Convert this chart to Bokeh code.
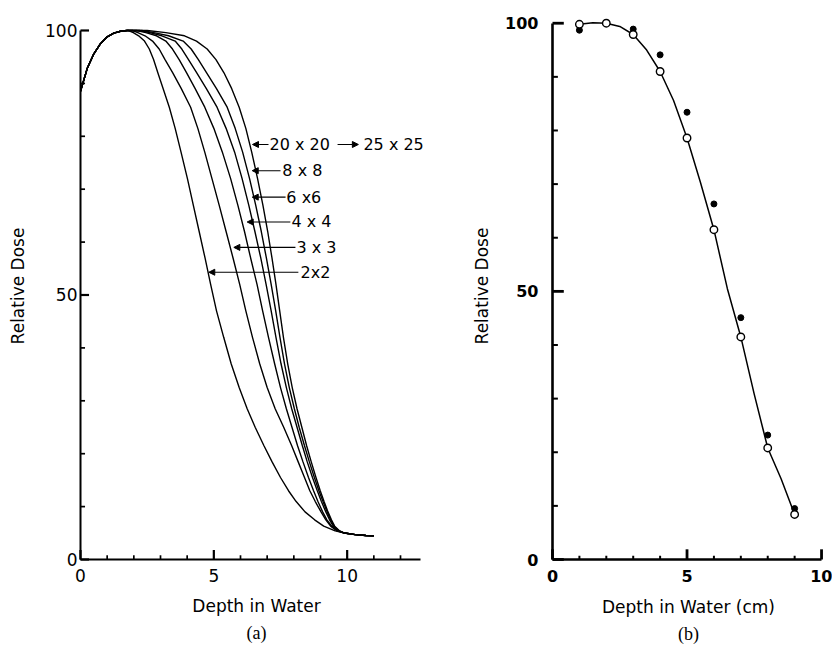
from bokeh.plotting import figure
from bokeh.layouts import row
from bokeh.models import Range1d, FixedTicker, Label, Arrow, NormalHead, ColumnDataSource, Title
from bokeh.embed import file_html
from bokeh.resources import INLINE

# ---------------- Panel (a): depth-dose curves for several field sizes ----------------
# shared build-up region (depth cm, relative dose)
buildup_depth = [0.0, 0.25, 0.5, 0.75, 1.0, 1.25, 1.5, 1.75]
buildup_dose = [88.5, 92.8, 95.6, 97.5, 98.8, 99.5, 99.85, 100.0]

# fall-off region: depth (cm) at which each curve reaches these dose levels
falloff_dose = [100, 99.6, 99.0, 98.0, 96.5, 94.5, 92, 89, 85.5, 81.5, 77, 72, 67, 62, 57,
                52, 47, 42, 37, 32.5, 28.5, 25, 21.5, 18.5, 15.5, 13, 11, 9, 7.5, 6.3, 5.4]
depth_2x2 = [1.8, 1.98, 2.18, 2.4, 2.58, 2.74, 2.9, 3.1, 3.33, 3.55, 3.77, 4.01, 4.23, 4.45,
             4.67, 4.88, 5.1, 5.37, 5.65, 5.95, 6.25, 6.55, 6.88, 7.18, 7.5, 7.8, 8.08, 8.42,
             8.78, 9.12, 9.55]
depth_3x3 = [1.95, 2.15, 2.42, 2.7, 2.95, 3.17, 3.46, 3.78, 4.13, 4.4, 4.66, 4.93, 5.2, 5.46,
             5.72, 5.97, 6.2, 6.45, 6.72, 7.0, 7.3, 7.62, 7.92, 8.16, 8.4, 8.6, 8.8, 9.02,
             9.2, 9.38, 9.62]
depth_4x4 = [2.1, 2.45, 2.85, 3.2, 3.45, 3.7, 3.98, 4.3, 4.66, 5.0, 5.32, 5.63, 5.9, 6.15,
             6.38, 6.62, 6.83, 7.05, 7.28, 7.5, 7.72, 7.93, 8.14, 8.34, 8.55, 8.74, 8.9, 9.08,
             9.24, 9.42, 9.65]
depth_6x6 = [2.2, 2.6, 3.05, 3.55, 3.8, 4.05, 4.36, 4.72, 5.12, 5.46, 5.78, 6.06, 6.31, 6.54,
             6.76, 6.96, 7.15, 7.33, 7.52, 7.72, 7.92, 8.12, 8.32, 8.5, 8.7, 8.88, 9.03, 9.2,
             9.34, 9.48, 9.68]
depth_8x8 = [2.3, 2.75, 3.3, 3.85, 4.15, 4.42, 4.73, 5.1, 5.5, 5.8, 6.08, 6.34, 6.57, 6.78,
             6.97, 7.15, 7.32, 7.48, 7.65, 7.83, 8.02, 8.2, 8.4, 8.58, 8.77, 8.94, 9.09, 9.25,
             9.38, 9.51, 9.7]
depth_20x20 = [2.5, 3.2, 3.9, 4.35, 4.75, 5.08, 5.38, 5.67, 5.95, 6.2, 6.42, 6.64, 6.84, 7.02,
               7.18, 7.33, 7.47, 7.61, 7.77, 7.94, 8.12, 8.3, 8.48, 8.65, 8.83, 8.99, 9.13,
               9.28, 9.41, 9.53, 9.72]
# shared low-dose tail
tail_depth = [9.9, 10.3, 10.7, 11.0]
tail_dose = [5.0, 4.7, 4.55, 4.5]

curve_depths = [depth_2x2, depth_3x3, depth_4x4, depth_6x6, depth_8x8, depth_20x20]

# curve labels (text) and their pointer geometry
label_text = ["20 x 20", "8 x 8", "6 x6", "4 x 4", "3 x 3", "2x2"]
label_y = [78.45, 73.5, 68.5, 63.8, 59.0, 54.3]
label_tip_x = [6.45, 6.44, 6.44, 6.25, 5.75, 4.81]
label_tail_x = [7.05, 7.5, 7.69, 7.87, 8.06, 8.17]
label_text_x = [7.09, 7.57, 7.72, 7.91, 8.1, 8.25]
extra_text = "25 x 25"

# axis ticks of panel (a)
a_x_major = [0, 5, 10]
a_x_minor = [1, 2, 3, 4, 6, 7, 8, 9, 11, 12]
a_y_major = [0, 50, 100]
a_y_minor = [10, 20, 30, 40, 60, 70, 80, 90]

# ---------------- Panel (b): measured vs calculated ----------------
depth_b = [1, 2, 3, 4, 5, 6, 7, 8, 9]
open_dose = [99.8, 100, 97.9, 91, 78.6, 61.5, 41.5, 20.8, 8.4]
filled_depth = [1, 3, 4, 5, 6, 7, 8, 9]
filled_dose = [98.7, 98.9, 94.1, 83.4, 66.3, 45.1, 23.2, 9.5]
fit_depth = [1, 1.5, 2, 2.5, 3, 3.5, 4, 4.5, 5, 5.5, 6, 6.5, 7, 7.5, 8, 8.5, 9]
fit_dose = [99.8, 100.1, 100, 99.4, 97.9, 95.0, 91, 85.6, 78.6, 70.3, 61.5, 50.5,
            41.5, 30.8, 20.8, 15.0, 8.4]

b_x_major = [0, 5, 10]
b_x_minor = [1, 2, 3, 4, 6, 7, 8, 9]
b_y_major = [0, 50, 100]
b_y_minor = [10, 20, 30, 40, 60, 70, 80, 90]

SANS = "DejaVu Sans"
SERIF = "Liberation Serif"


def style_axes(p, bold, lw):
    for ax in (p.xaxis[0], p.yaxis[0]):
        ax.axis_line_width = lw
        ax.axis_line_color = "black"
        ax.major_tick_in = 0
        ax.major_tick_out = 0
        ax.minor_tick_in = 0
        ax.minor_tick_out = 0
        ax.major_label_text_font = SANS
        ax.major_label_text_font_style = "bold" if bold else "normal"
        ax.major_label_text_color = "black"
        ax.axis_label_text_font = SANS
        ax.axis_label_text_font_style = "normal"
        ax.axis_label_text_font_size = "17px"
        ax.axis_label_text_color = "black"
    p.grid.visible = False
    p.outline_line_color = None
    p.background_fill_color = "white"
    p.border_fill_color = "white"


def inward_ticks(p, xs, ylen, ys, xlen, lw):
    # ticks pointing into the plot, from the axis lines at x=0 / y=0
    src_x = ColumnDataSource(dict(x0=list(xs), y0=[0.0] * len(xs),
                                  x1=list(xs), y1=[ylen] * len(xs)))
    src_y = ColumnDataSource(dict(x0=[0.0] * len(ys), y0=list(ys),
                                  x1=[xlen] * len(ys), y1=list(ys)))
    for src in (src_x, src_y):
        p.segment(x0="x0", y0="y0", x1="x1", y1="y1", source=src,
                  line_color="black", line_width=lw, level="overlay")


H = 646

# ---- figure (a) ----
pa = figure(width=440, height=H,
            x_range=Range1d(0, 13.2), y_range=Range1d(0, 103.4),
            min_border_left=80, min_border_right=8, min_border_top=12, min_border_bottom=87,
            output_backend="svg", toolbar_location=None)
style_axes(pa, False, 2.0)
pa.xaxis.ticker = FixedTicker(ticks=a_x_major, minor_ticks=a_x_minor)
pa.yaxis.ticker = FixedTicker(ticks=a_y_major, minor_ticks=a_y_minor)
pa.yaxis.bounds = (0, 100)
pa.xaxis.bounds = (0, 12.75)
pa.xaxis.major_label_text_font_size = "17px"
pa.yaxis.major_label_text_font_size = "17px"
pa.xaxis.major_label_standoff = 9
pa.yaxis.major_label_standoff = 3
pa.xaxis.axis_label = "Depth in Water"
pa.yaxis.axis_label = "Relative Dose"
pa.xaxis.axis_label_standoff = 11
pa.yaxis.axis_label_standoff = 14

inward_ticks(pa, a_x_major, 1.8, a_y_major, 0.32, 2.2)
inward_ticks(pa, a_x_minor, 0.8, a_y_minor, 0.17, 1.7)

for d in curve_depths:
    xs = buildup_depth + d + tail_depth
    ys = buildup_dose + falloff_dose + tail_dose
    pa.line(xs, ys, line_color="black", line_width=1.4)

arrow_src = ColumnDataSource(dict(xs=label_tail_x + [9.64], xe=label_tip_x + [10.42],
                                  ys=label_y + [label_y[0]], ye=label_y + [label_y[0]]))
pa.add_layout(Arrow(end=NormalHead(size=6, fill_color="black", line_color="black", line_width=1),
                    source=arrow_src, x_start="xs", y_start="ys", x_end="xe", y_end="ye",
                    line_color="black", line_width=1.1))
for t, tx, ty in zip(label_text, label_text_x, label_y):
    pa.add_layout(Label(x=tx, y=ty, text=t, text_font=SANS, text_font_size="16px",
                        text_baseline="middle", text_align="left", text_color="black"))
pa.add_layout(Label(x=10.61, y=label_y[0], text=extra_text, text_font=SANS, text_font_size="16px",
                    text_baseline="middle", text_align="left", text_color="black"))
pa.add_layout(Title(text="(a)", align="center", text_font=SERIF, text_font_size="18px",
                    text_font_style="normal", text_color="black", standoff=4, offset=-5), "below")

# ---- figure (b) ----
pb = figure(width=392, height=H,
            x_range=Range1d(0, 10.11), y_range=Range1d(0, 102.0),
            min_border_left=112, min_border_right=8, min_border_top=12, min_border_bottom=87,
            output_backend="svg", toolbar_location=None)
style_axes(pb, True, 2.6)
pb.xaxis.ticker = FixedTicker(ticks=b_x_major, minor_ticks=b_x_minor)
pb.yaxis.ticker = FixedTicker(ticks=b_y_major, minor_ticks=b_y_minor)
pb.xaxis.bounds = (0, 10)
pb.yaxis.bounds = (0, 100)
pb.xaxis.major_label_text_font_size = "16px"
pb.yaxis.major_label_text_font_size = "16px"
pb.xaxis.major_label_standoff = 10
pb.yaxis.major_label_standoff = 14
pb.xaxis.axis_label = "Depth in Water (cm)"
pb.yaxis.axis_label = "Relative Dose"
pb.xaxis.axis_label_standoff = 12
pb.yaxis.axis_label_standoff = 10

inward_ticks(pb, b_x_major, 1.9, b_y_major, 0.42, 2.8)
inward_ticks(pb, b_x_minor, 0.7, b_y_minor, 0.2, 2.0)

pb.line(fit_depth, fit_dose, line_color="black", line_width=1.5)
pb.scatter(filled_depth, filled_dose, marker="circle", size=6, fill_color="black", line_color="black")
pb.scatter(depth_b, open_dose, marker="circle", size=7.5, fill_color="white", line_color="black",
           line_width=1.4)
pb.add_layout(Title(text="(b)", align="center", text_font=SERIF, text_font_size="18px",
                    text_font_style="normal", text_color="black", standoff=4, offset=0), "below")

layout = row(pa, pb)
open("out.html", "w").write(file_html(layout, INLINE))
